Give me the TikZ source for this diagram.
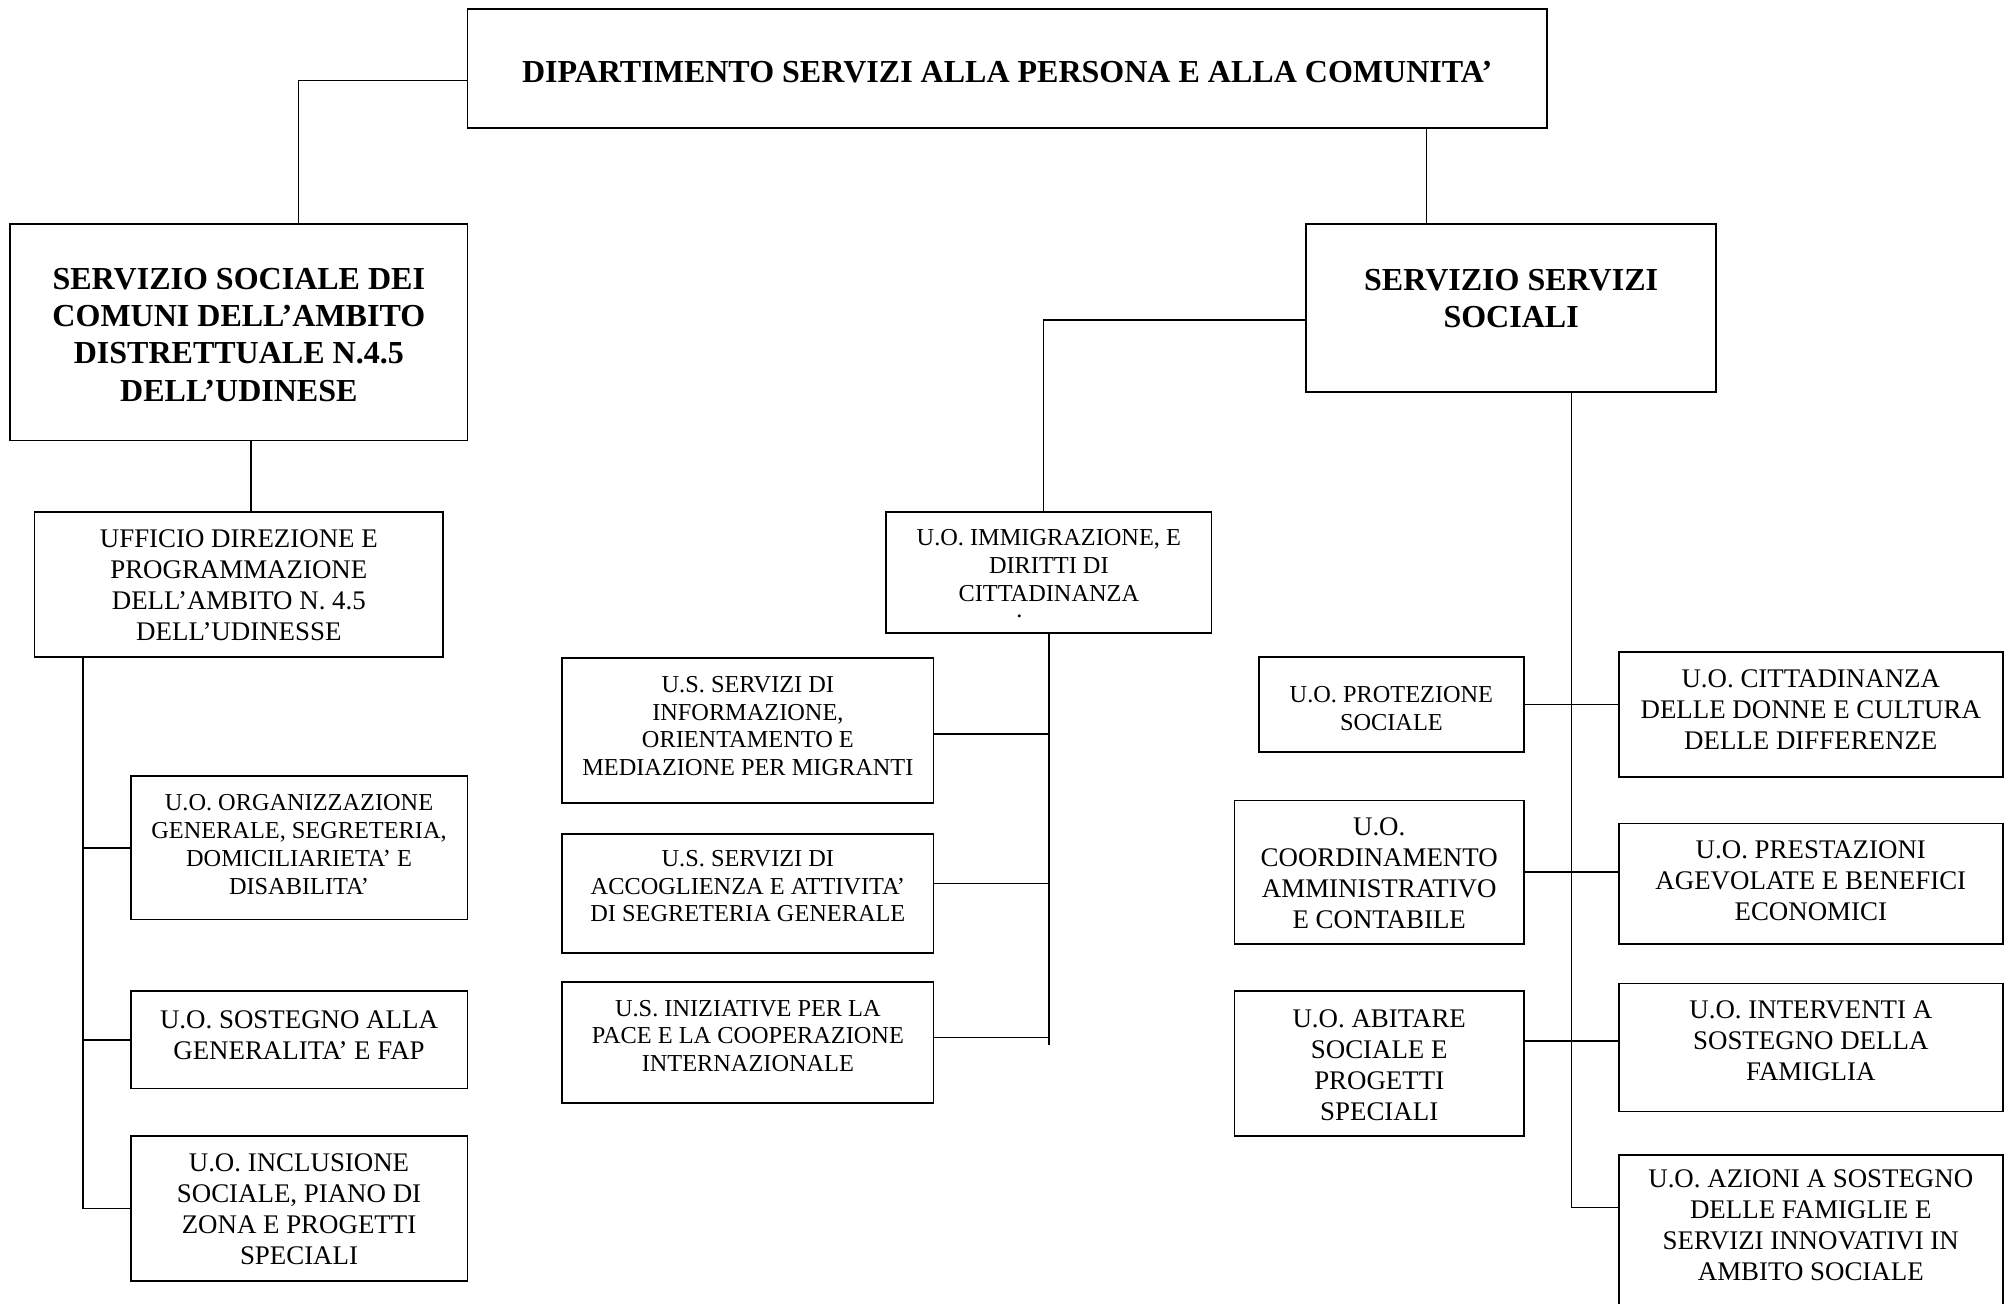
\documentclass[tikz,border=0pt]{standalone}
\usepackage{fontspec}
\setmainfont{Liberation Serif}
\begin{document}
\begin{tikzpicture}[x=1pt,y=-1pt,
  bx/.style={draw, line width=1.4pt, inner sep=0pt},
  ln/.style={line width=1.2pt},
  tb/.style={align=center, inner sep=0pt, font=\fontsize{25}{29}\selectfont\bfseries},
  ta/.style={align=center, inner sep=0pt, font=\fontsize{21}{24.2}\selectfont},
  tc/.style={align=center, inner sep=0pt, font=\fontsize{19}{21.7}\selectfont}]
\useasboundingbox (0,0) rectangle (1568,1018);
% boxes
\node[bx, minimum width=843pt, minimum height=93pt] (top) at (786.5,53.5) {};
\node[bx, minimum width=357pt, minimum height=169pt] (l1) at (186.5,259.5) {};
\node[bx, minimum width=320pt, minimum height=131pt] (r1) at (1180,240.5) {};
\node[bx, minimum width=319pt, minimum height=113pt] (uff) at (186.5,456.5) {};
\node[bx, minimum width=263pt, minimum height=112pt] (org) at (233.5,662) {};
\node[bx, minimum width=263pt, minimum height=76pt] (sost) at (233.5,812) {};
\node[bx, minimum width=263pt, minimum height=113pt] (incl) at (233.5,943.5) {};
\node[bx, minimum width=254pt, minimum height=94pt] (imm) at (819,447) {};
\node[bx, minimum width=290pt, minimum height=113pt] (us1) at (584,570.5) {};
\node[bx, minimum width=290pt, minimum height=93pt] (us2) at (584,697.5) {};
\node[bx, minimum width=290pt, minimum height=94pt] (us3) at (584,814) {};
\node[bx, minimum width=207pt, minimum height=74pt] (prot) at (1086.5,550) {};
\node[bx, minimum width=226pt, minimum height=112pt] (coord) at (1077,681) {};
\node[bx, minimum width=226pt, minimum height=113pt] (abit) at (1077,830.5) {};
\node[bx, minimum width=300pt, minimum height=98pt] (citt) at (1414,558) {};
\node[bx, minimum width=300pt, minimum height=94pt] (prest) at (1414,690) {};
\node[bx, minimum width=300pt, minimum height=100pt] (inter) at (1414,818) {};
\node[bx, minimum width=300pt, minimum height=128pt] (azi) at (1414,966) {};
% texts
\node[tb] (topt) at (786.5,56.5) {DIPARTIMENTO SERVIZI ALLA PERSONA E ALLA COMUNITA’};
\node[tb] (l1t) at (186.5,261.5) {SERVIZIO SOCIALE DEI\\COMUNI DELL’AMBITO\\DISTRETTUALE N.4.5\\DELL’UDINESE};
\node[tb] (r1t) at (1180,233) {SERVIZIO SERVIZI\\SOCIALI};
\node[ta] (ufft) at (186.5,457) {UFFICIO DIREZIONE E\\PROGRAMMAZIONE\\DELL’AMBITO N. 4.5\\DELL’UDINESSE};
\node[tc] (orgt) at (233.5,659.5) {U.O. ORGANIZZAZIONE\\GENERALE, SEGRETERIA,\\DOMICILIARIETA’ E\\DISABILITA’};
\node[ta] (sostt) at (233.5,808) {U.O. SOSTEGNO ALLA\\GENERALITA’ E FAP};
\node[ta] (inclt) at (233.5,944) {U.O. INCLUSIONE\\SOCIALE, PIANO DI\\ZONA E PROGETTI\\SPECIALI};
\node[tc] (immt) at (819,441.5) {U.O. IMMIGRAZIONE, E\\DIRITTI DI\\CITTADINANZA};
\node[tc, anchor=base] (immdot) at (796,482) {.};
\node[tc] (us1t) at (584,567) {U.S. SERVIZI DI\\INFORMAZIONE,\\ORIENTAMENTO E\\MEDIAZIONE PER MIGRANTI};
\node[tc] (us2t) at (584,692) {U.S. SERVIZI DI\\ACCOGLIENZA E ATTIVITA’\\DI SEGRETERIA GENERALE};
\node[tc] (us3t) at (584,809) {U.S. INIZIATIVE PER LA\\PACE E LA COOPERAZIONE\\INTERNAZIONALE};
\node[tc] (prott) at (1086.5,553) {U.O. PROTEZIONE\\SOCIALE};
\node[ta] (coordt) at (1077,682) {U.O.\\COORDINAMENTO\\AMMINISTRATIVO\\E CONTABILE};
\node[ta] (abitt) at (1077,832) {U.O. ABITARE\\SOCIALE E\\PROGETTI\\SPECIALI};
\node[ta] (cittt) at (1414,554) {U.O. CITTADINANZA\\DELLE DONNE E CULTURA\\DELLE DIFFERENZE};
\node[ta] (prestt) at (1414,688) {U.O. PRESTAZIONI\\AGEVOLATE E BENEFICI\\ECONOMICI};
\node[ta] (intert) at (1414,813) {U.O. INTERVENTI A\\SOSTEGNO DELLA\\FAMIGLIA};
\node[ta] (azit) at (1414,956.5) {U.O. AZIONI A SOSTEGNO\\DELLE FAMIGLIE E\\SERVIZI INNOVATIVI IN\\AMBITO SOCIALE};
% connector points
\coordinate (tl) at ([yshift=-9.5pt]top.west);
\coordinate (l1n) at ([xshift=46.5pt]l1.north);
\coordinate (r1n) at ([xshift=-66pt]r1.north);
\coordinate (un) at ([xshift=9.5pt]uff.north);
\coordinate (r1w) at ([yshift=-9.5pt]r1.west);
\coordinate (imn) at ([xshift=-4pt]imm.north);
\coordinate (ls) at ([xshift=-121.5pt]uff.south);
\coordinate (imend) at ([yshift=-321pt]imm.south);
\coordinate (u1) at ([yshift=-2.5pt]us1.east);
\coordinate (u2) at ([yshift=7.5pt]us2.east);
\coordinate (u3) at ([yshift=4pt]us3.east);
\coordinate (rs) at ([xshift=47pt]r1.south);
\coordinate (az) at ([yshift=23pt]azi.west);
\coordinate (ab) at ([yshift=17.5pt]abit.east);
% connectors
\draw[ln] (tl) -| (l1n);
\draw[ln] (r1n) -- (r1n |- top.south);
\draw[ln] (un) -- (un |- l1.south);
\draw[ln] (ls) |- (incl.west);
\draw[ln] (ls |- org.west) -- (org.west);
\draw[ln] (ls |- sost.west) -- (sost.west);
\draw[ln] (r1w) -| (imn);
\draw[ln] (imm.south) -- (imend);
\draw[ln] (u1) -- (u1 -| imm.south);
\draw[ln] (u2) -- (u2 -| imm.south);
\draw[ln] (u3) -- (u3 -| imm.south);
\draw[ln] (rs) |- (az);
\draw[ln] (prot.east) -- (prot.east -| citt.west);
\draw[ln] (coord.east) -- (coord.east -| prest.west);
\draw[ln] (ab) -- (ab -| inter.west);
\end{tikzpicture}
\end{document}
